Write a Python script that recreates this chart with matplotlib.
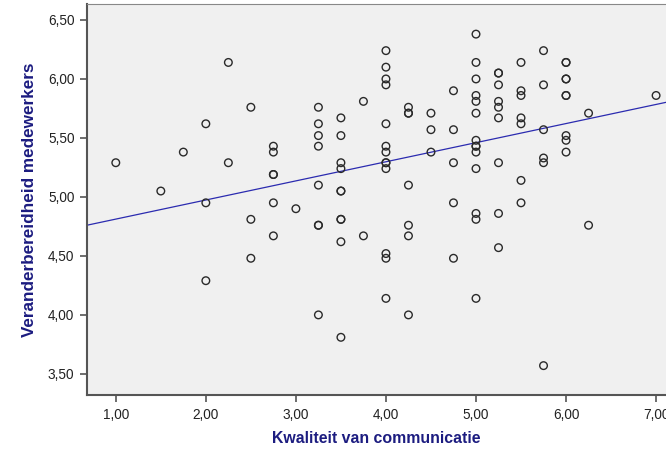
import numpy as np
import matplotlib
matplotlib.use("Agg")
import matplotlib.pyplot as plt
from matplotlib.ticker import FuncFormatter

# Kwaliteit van communicatie (x) en veranderbereidheid (y) per respondent
kwaliteit = [
    1.00, 1.50, 1.75, 2.00, 2.00, 2.00, 2.25, 2.25, 2.50, 2.50, 2.50,
    2.75, 2.75, 2.75, 2.75, 2.75, 2.75, 3.00,
    3.25, 3.25, 3.25, 3.25, 3.25, 3.25, 3.25, 3.25,
    3.50, 3.50, 3.50, 3.50, 3.50, 3.50, 3.50, 3.50, 3.50, 3.50,
    3.75, 3.75,
    4.00, 4.00, 4.00, 4.00, 4.00, 4.00, 4.00, 4.00, 4.00, 4.00, 4.00, 4.00, 4.00,
    4.25, 4.25, 4.25, 4.25, 4.25, 4.25, 4.25,
    4.50, 4.50, 4.50,
    4.75, 4.75, 4.75, 4.75, 4.75,
    5.00, 5.00, 5.00, 5.00, 5.00, 5.00, 5.00, 5.00, 5.00, 5.00, 5.00, 5.00, 5.00, 5.00,
    5.25, 5.25, 5.25, 5.25, 5.25, 5.25, 5.25, 5.25, 5.25,
    5.50, 5.50, 5.50, 5.50, 5.50, 5.50, 5.50,
    5.75, 5.75, 5.75, 5.75, 5.75, 5.75,
    6.00, 6.00, 6.00, 6.00, 6.00, 6.00, 6.00, 6.00, 6.00,
    6.25, 6.25, 7.00,
]
bereidheid = [
    5.29, 5.05, 5.38, 5.62, 4.95, 4.29, 6.14, 5.29, 5.76, 4.81, 4.48,
    5.43, 5.38, 5.19, 4.95, 4.67, 5.19, 4.90,
    5.76, 5.62, 5.52, 5.43, 5.10, 4.76, 4.76, 4.00,
    5.67, 5.52, 5.29, 5.24, 5.05, 4.81, 4.81, 4.62, 3.81, 5.05,
    5.81, 4.67,
    6.24, 6.10, 6.00, 5.95, 5.62, 5.43, 5.38, 5.29, 5.24, 4.52, 4.48, 4.14, 5.29,
    5.76, 5.71, 5.10, 4.76, 4.67, 4.00, 5.71,
    5.71, 5.57, 5.38,
    5.90, 5.57, 5.29, 4.95, 4.48,
    6.38, 6.14, 6.00, 5.86, 5.81, 5.71, 5.48, 5.43, 5.38, 5.24, 4.86, 4.81, 4.14, 5.43,
    6.05, 6.05, 5.95, 5.81, 5.76, 5.67, 5.29, 4.86, 4.57,
    6.14, 5.90, 5.86, 5.67, 5.62, 5.14, 4.95,
    6.24, 5.95, 5.57, 5.33, 5.29, 3.57,
    6.14, 6.14, 6.00, 6.00, 5.86, 5.86, 5.52, 5.48, 5.38,
    5.71, 4.76, 5.86,
]
# regressielijn: constante en helling
fit_constante = 4.65
fit_helling = 0.162

x_ticks = [1, 2, 3, 4, 5, 6, 7]
y_ticks = [3.5, 4.0, 4.5, 5.0, 5.5, 6.0, 6.5]

plt.rcParams['font.family'] = ['Liberation Sans', 'DejaVu Sans']
navy = '#1c1c80'

fig = plt.figure(figsize=(6.66, 4.49), dpi=100)
ax = fig.add_axes([0.1306, 0.120, 0.8694, 0.871])
ax.set_facecolor('#f0f0f0')

ax.scatter(kwaliteit, bereidheid, s=30, facecolors='none', edgecolors='#2a2a2a',
           linewidths=1.0, zorder=3)

xs = np.array([0.5, 7.5])
ax.plot(xs, fit_constante + fit_helling * xs, color='#2b2bb0', lw=0.9, zorder=2)

ax.set_xlim(0.68, 7.11)
ax.set_ylim(3.32, 6.635)
ax.set_xticks(x_ticks)
ax.set_yticks(y_ticks)
komma = FuncFormatter(lambda v, p: f"{v:.2f}".replace('.', ','))
ax.xaxis.set_major_formatter(komma)
ax.yaxis.set_major_formatter(komma)
ax.tick_params(direction='out', length=5, width=1.2, color='#555555',
               labelsize=9.8, labelcolor='#222222', pad=4)

for side in ['left', 'bottom']:
    ax.spines[side].set_color('#555555')
    ax.spines[side].set_linewidth(1.5)
ax.spines['top'].set_color('#888888')
ax.spines['right'].set_visible(False)

ax.set_xlabel('Kwaliteit van communicatie', fontsize=11.4, fontweight='bold',
              color=navy, labelpad=7)
ax.set_ylabel('Veranderbereidheid medewerkers', fontsize=12.3, fontweight='bold',
              color=navy, labelpad=8)

fig.savefig('out.png', dpi=100)
